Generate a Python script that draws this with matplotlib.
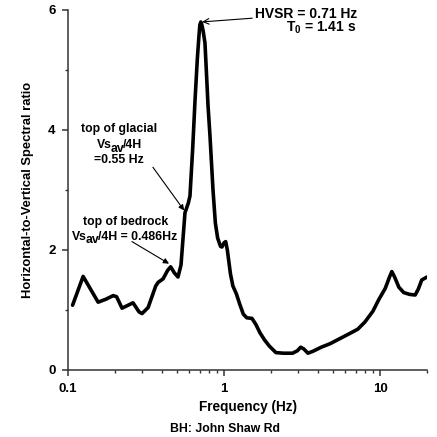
import numpy as np
import matplotlib
matplotlib.use('Agg')
import matplotlib.pyplot as plt
from matplotlib.ticker import LogLocator, NullFormatter, FixedLocator
from matplotlib.transforms import ScaledTranslation

plt.rcParams['font.family'] = ['Liberation Sans', 'DejaVu Sans']
plt.rcParams['font.weight'] = 'bold'
plt.rcParams['mathtext.fontset'] = 'custom'
plt.rcParams['mathtext.rm'] = 'Liberation Sans:bold'
plt.rcParams['mathtext.bf'] = 'Liberation Sans:bold'
plt.rcParams['mathtext.it'] = 'Liberation Sans:bold'

# HVSR curve, frequency (Hz) vs H/V ratio
freq = [0.107, 0.125, 0.156, 0.175, 0.195, 0.205, 0.222, 0.261, 0.285, 0.298,
        0.326, 0.365, 0.378, 0.407, 0.435, 0.455, 0.48, 0.507, 0.53, 0.55,
        0.562, 0.59, 0.605, 0.63, 0.652, 0.675, 0.69, 0.70, 0.71, 0.72,
        0.735, 0.755, 0.77, 0.79, 0.813, 0.85, 0.88, 0.91, 0.95, 0.97,
        1.0, 1.025, 1.05, 1.10, 1.14, 1.20, 1.26, 1.33, 1.40, 1.51,
        1.60, 1.70, 1.82, 1.95, 2.15, 2.40, 2.75, 2.95, 3.10, 3.25,
        3.45, 3.70, 4.20, 4.80, 5.50, 6.30, 7.20, 8.0, 9.0, 9.8,
        10.8, 11.5, 11.9, 12.4, 13.2, 14.2, 15.5, 16.8, 17.6, 18.5, 20.0]
hv = [1.08, 1.56, 1.13, 1.18, 1.24, 1.22, 1.03, 1.12, 0.97, 0.94,
      1.04, 1.40, 1.46, 1.52, 1.66, 1.72, 1.62, 1.55, 1.75, 2.30,
      2.62, 2.78, 2.90, 3.70, 4.50, 5.20, 5.55, 5.75, 5.80, 5.76,
      5.65, 5.45, 5.00, 4.40, 3.90, 3.00, 2.45, 2.20, 2.06, 2.05,
      2.12, 2.14, 2.00, 1.60, 1.40, 1.27, 1.10, 0.93, 0.87, 0.86,
      0.76, 0.62, 0.50, 0.40, 0.29, 0.28, 0.28, 0.32, 0.38, 0.35,
      0.28, 0.31, 0.38, 0.44, 0.52, 0.60, 0.68, 0.80, 0.98, 1.17,
      1.36, 1.55, 1.64, 1.55, 1.38, 1.29, 1.26, 1.25, 1.35, 1.50, 1.55]

f_peak, hv_peak = 0.71, 5.80
f_glacial, hv_glacial = 0.562, 2.64
f_bedrock, hv_bedrock = 0.452, 1.76

fig = plt.figure(figsize=(4.37, 4.37), dpi=100)
ax = fig.add_axes([68 / 437, 67 / 437, 359 / 437, 360 / 437])

ax.plot(freq, hv, color='black', lw=2.6, solid_joinstyle='round', solid_capstyle='round')

ax.set_xscale('log')
ax.set_xlim(0.1, 20)
ax.set_ylim(0, 6)
ax.set_xticks([0.1, 1, 10])
ax.set_xticklabels(['0.1', '1', '10'])
ax.xaxis.set_minor_locator(LogLocator(base=10, subs=np.arange(2, 10)))
ax.xaxis.set_minor_formatter(NullFormatter())
ax.set_yticks([0, 2, 4, 6])
ax.yaxis.set_minor_locator(FixedLocator([1, 3, 5]))

for s in ['top', 'right']:
    ax.spines[s].set_visible(False)
for s in ['left', 'bottom']:
    ax.spines[s].set_linewidth(1.1)
    ax.spines[s].set_color('#333333')
ax.tick_params(which='major', length=4, width=1.1, color='#333333', labelsize=9.5)
ax.tick_params(which='minor', length=2.5, width=1.0, color='#333333')
ax.tick_params(axis='x', which='major', pad=5)
ax.tick_params(axis='y', which='major', pad=5)

ax.set_xlabel('Frequency (Hz)', fontsize=9.8, fontweight='bold', labelpad=4)
ax.set_ylabel('Horizontal-to-Vertical Spectral ratio', fontsize=9.4, fontweight='bold', labelpad=10)
fig.text(225 / 437, 8 / 437, 'BH: John Shaw Rd', ha='center', va='center', fontsize=8.8, fontweight='bold')

renderer = fig.canvas.get_renderer()


def rich_line(x, y, pieces, size, kern=1.2):
    # pieces: (text, drop in points); laid out left to right, centred on x
    texts = [ax.text(x, y, s, fontsize=size, fontweight='bold', ha='left', va='center') for s, _ in pieces]
    widths = [t.get_window_extent(renderer).width - kern for t in texts]
    off = -sum(widths) / 2
    for t, (_, drop), w in zip(texts, pieces, widths):
        t.set_transform(ax.transData + ScaledTranslation(off / fig.dpi, -drop / 72, fig.dpi_scale_trans))
        off += w


open_arrow = dict(arrowstyle='->', color='black', lw=0.8, shrinkA=0, shrinkB=1)
head_arrow = dict(arrowstyle='-|>', color='black', lw=0.8, shrinkA=0, shrinkB=1, mutation_scale=8)

# main peak
ax.annotate('HVSR = 0.71 Hz', xy=(f_peak, hv_peak), xytext=(1.58, 5.93),
            fontsize=10, fontweight='bold', ha='left', va='center', arrowprops=open_arrow)
ax.text(4.2, 5.70, 'T$_0$ = 1.41 s', fontsize=10, fontweight='bold', ha='center', va='center')

# glacial contact
ax.text(0.212, 4.02, 'top of glacial', fontsize=8.8, fontweight='bold', ha='center', va='center')
rich_line(0.212, 3.75, [('Vs', 0), ('av', 2.6), ('/4H', 0)], 8.8)
ax.text(0.212, 3.50, '=0.55 Hz', fontsize=8.8, fontweight='bold', ha='center', va='center')
ax.annotate('', xy=(f_glacial, hv_glacial), xytext=(0.35, 3.38), arrowprops=head_arrow)

# bedrock contact
ax.text(0.235, 2.47, 'top of bedrock', fontsize=8.8, fontweight='bold', ha='center', va='center')
rich_line(0.229, 2.22, [('Vs', 0), ('av', 2.6), ('/4H = 0.486Hz', 0)], 8.8)
ax.annotate('', xy=(f_bedrock, hv_bedrock), xytext=(0.257, 2.14), arrowprops=head_arrow)

fig.savefig('out.png', dpi=100)
